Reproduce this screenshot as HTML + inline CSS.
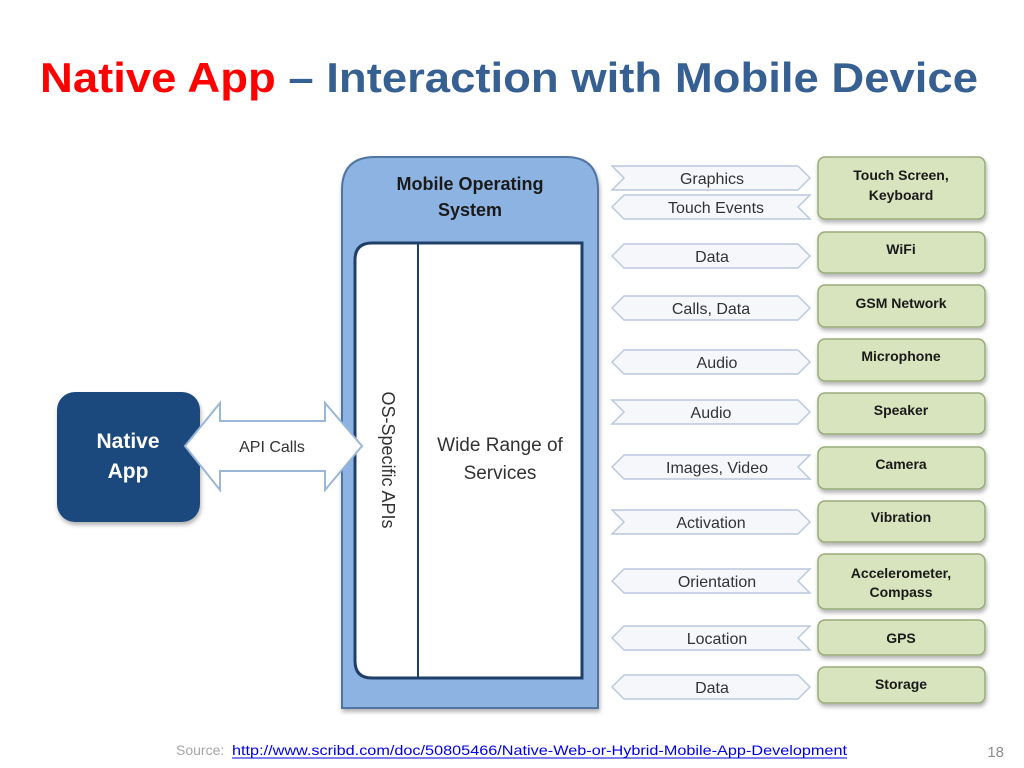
<!DOCTYPE html>
<html><head><meta charset="utf-8"><style>
html,body{margin:0;padding:0;background:#fff;}
svg{display:block;font-family:"Liberation Sans",sans-serif;}
</style></head><body>
<svg width="1024" height="768" viewBox="0 0 1024 768" xmlns="http://www.w3.org/2000/svg">
<defs>
<filter id="sh" x="-10%" y="-10%" width="130%" height="130%"><feDropShadow dx="1" dy="3" stdDeviation="2" flood-color="#000" flood-opacity="0.3"/></filter>
</defs>
<text x="40" y="92" font-size="42" font-weight="bold" textLength="938" lengthAdjust="spacingAndGlyphs"><tspan fill="#ff0000">Native App</tspan><tspan fill="#376092"> – Interaction with Mobile Device</tspan></text>

<path d="M342,708 L342,190 Q342,157 375,157 L566,157 Q598,157 598,190 L598,708 Z" fill="#8db3e2" stroke="#4f74a3" stroke-width="2" filter="url(#sh)"/>
<text x="470" y="190" font-size="18" font-weight="bold" fill="#1a1a1a" text-anchor="middle">Mobile  Operating</text>
<text x="470" y="216" font-size="18" font-weight="bold" fill="#1a1a1a" text-anchor="middle">System</text>
<path d="M582,243 L372,243 Q355,243 355,260 L355,661 Q355,678 372,678 L582,678 Z" fill="#fff" stroke="#1f3f6a" stroke-width="3"/>
<line x1="418" y1="243" x2="418" y2="678" stroke="#1f3f6a" stroke-width="2"/>
<text x="500" y="451" font-size="19" fill="#333" text-anchor="middle">Wide Range of</text>
<text x="500" y="479" font-size="19" fill="#333" text-anchor="middle">Services</text>
<text transform="translate(382,460) rotate(90)" font-size="18" fill="#333" text-anchor="middle">OS-Specific APIs</text>

<rect x="57" y="392" width="143" height="130" rx="18" fill="#1f497d" filter="url(#sh)"/>
<text x="128" y="448" font-size="21" font-weight="bold" fill="#fff" text-anchor="middle">Native</text>
<text x="128" y="478" font-size="21" font-weight="bold" fill="#fff" text-anchor="middle">App</text>

<path d="M185,446 L220,403 L220,421 L325,421 L325,403 L362,446 L325,490 L325,471 L220,471 L220,490 Z" fill="#fff" stroke="#9bb7d8" stroke-width="2"/>
<text x="272" y="452" font-size="16" fill="#333" text-anchor="middle">API Calls</text>

<g fill="#f5f7fb" stroke="#b9c9de" stroke-width="1.5">
<path d="M612,166 L798,166 L810,178 L798,190 L612,190 L624,178 Z"/>
<path d="M624,195 L810,195 L798,207 L810,219 L624,219 L612,207 Z"/>
<path d="M624,244 L798,244 L810,256 L798,268 L624,268 L612,256 Z"/>
<path d="M624,296 L798,296 L810,308 L798,320 L624,320 L612,308 Z"/>
<path d="M624,350 L798,350 L810,362 L798,374 L624,374 L612,362 Z"/>
<path d="M612,400 L798,400 L810,412 L798,424 L612,424 L624,412 Z"/>
<path d="M624,455 L810,455 L798,467 L810,479 L624,479 L612,467 Z"/>
<path d="M612,510 L798,510 L810,522 L798,534 L612,534 L624,522 Z"/>
<path d="M624,569 L810,569 L798,581 L810,593 L624,593 L612,581 Z"/>
<path d="M624,626 L810,626 L798,638 L810,650 L624,650 L612,638 Z"/>
<path d="M624,675 L798,675 L810,687 L798,699 L624,699 L612,687 Z"/>
</g>
<g font-size="16" fill="#333" text-anchor="middle">
<text x="712" y="184">Graphics</text>
<text x="716" y="213">Touch Events</text>
<text x="712" y="262">Data</text>
<text x="711" y="314">Calls, Data</text>
<text x="717" y="368">Audio</text>
<text x="711" y="418">Audio</text>
<text x="717" y="473">Images, Video</text>
<text x="711" y="528">Activation</text>
<text x="717" y="587">Orientation</text>
<text x="717" y="644">Location</text>
<text x="712" y="693">Data</text>
</g>

<g fill="#d7e4bd" stroke="#9aab7a" stroke-width="1.5" filter="url(#sh)">
<rect x="818" y="157" width="167" height="62" rx="7"/>
<rect x="818" y="232" width="167" height="41" rx="7"/>
<rect x="818" y="285" width="167" height="42" rx="7"/>
<rect x="818" y="339" width="167" height="42" rx="7"/>
<rect x="818" y="393" width="167" height="41" rx="7"/>
<rect x="818" y="447" width="167" height="42" rx="7"/>
<rect x="818" y="501" width="167" height="41" rx="7"/>
<rect x="818" y="554" width="167" height="55" rx="7"/>
<rect x="818" y="620" width="167" height="35" rx="7"/>
<rect x="818" y="667" width="167" height="36" rx="7"/>
</g>
<g font-size="14" font-weight="bold" fill="#1a1a1a" text-anchor="middle">
<text x="901" y="180">Touch Screen,</text>
<text x="901" y="200">Keyboard</text>
<text x="901" y="254">WiFi</text>
<text x="901" y="308">GSM Network</text>
<text x="901" y="361">Microphone</text>
<text x="901" y="415">Speaker</text>
<text x="901" y="469">Camera</text>
<text x="901" y="522">Vibration</text>
<text x="901" y="578">Accelerometer,</text>
<text x="901" y="597">Compass</text>
<text x="901" y="643">GPS</text>
<text x="901" y="689">Storage</text>
</g>

<text x="176" y="755" font-size="14" fill="#a6a6a6">Source:</text>
<text x="232" y="755" font-size="14" fill="#0000ee" textLength="615" lengthAdjust="spacingAndGlyphs">http://www.scribd.com/doc/50805466/Native-Web-or-Hybrid-Mobile-App-Development</text>
<line x1="232" y1="758" x2="847" y2="758" stroke="#0000ee" stroke-width="1"/>
<text x="1004" y="757" font-size="15" fill="#8c8c8c" text-anchor="end">18</text>
</svg>
</body></html>
